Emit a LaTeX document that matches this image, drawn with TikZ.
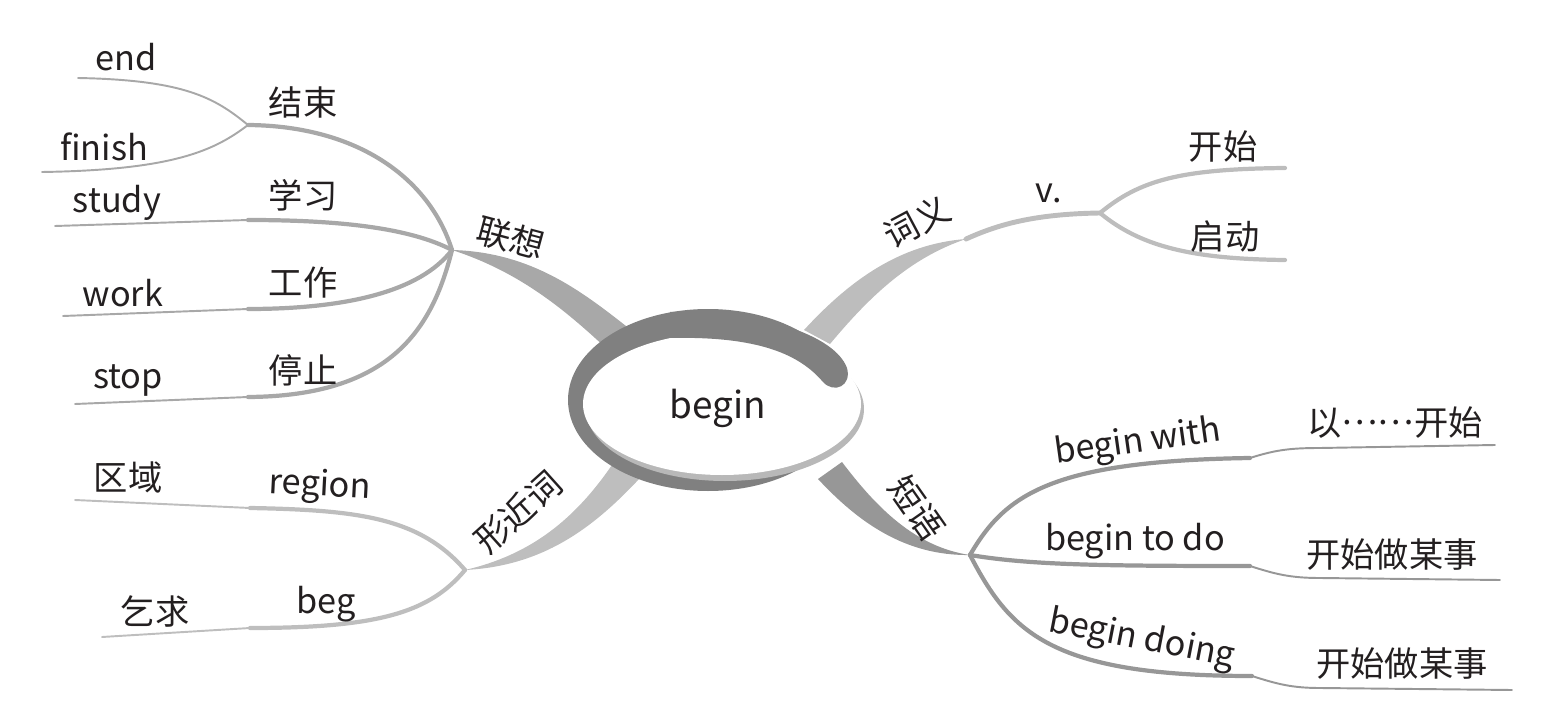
\documentclass[tikz,border=0pt]{standalone}
\usepackage{fontspec}
\setmainfont{Noto Sans CJK SC}
\definecolor{ringgray}{HTML}{808080}
\definecolor{rimgray}{HTML}{B8B8B8}
\definecolor{assocgray}{HTML}{A8A8A8}
\definecolor{meangray}{HTML}{BDBDBD}
\definecolor{phrasegray}{HTML}{979797}
\definecolor{formgray}{HTML}{BEBEBE}
\definecolor{inkblack}{HTML}{231F20}

\begin{document}
\begin{tikzpicture}[x=0.02cm, y=-0.02cm, line cap=round,
        word/.style={inner sep=0pt, text=inkblack, font=\fontsize{19.5}{22}\selectfont},
        twig/.style={line width=2.4pt},
        tail/.style={line width=1.1pt}]

    \useasboundingbox (0,0) rectangle (1562,726);

    % --- punkty węzłowe ---
    \coordinate (hubL) at (452,250);
    \coordinate (hubE) at (248,125);
    \coordinate (hubM) at (966,239);
    \coordinate (hubV) at (1100,213);
    \coordinate (hubP) at (970,555);
    \coordinate (hubF) at (465,570);

    % --- grube gałęzie ---
    \fill[assocgray] (hubL) .. controls (530,252) and (580,290) .. (626,326)
        -- (607,349) .. controls (565,310) and (520,272) .. (hubL) -- cycle;
    \fill[meangray] (hubM) .. controls (900,244) and (850,280) .. (804,330)
        -- (830,344) .. controls (870,296) and (910,258) .. (hubM) -- cycle;
    \fill[phrasegray] (hubP) .. controls (915,547) and (876,507) .. (842,462)
        -- (818,479) .. controls (858,522) and (905,556) .. (hubP) -- cycle;
    \fill[formgray] (hubF) .. controls (530,555) and (575,520) .. (614,462)
        -- (640,478) .. controls (595,526) and (545,566) .. (hubF) -- cycle;

    % --- węzeł centralny ---
    \fill[ringgray] (708,400) ellipse [x radius=140, y radius=91];
    \fill[rimgray] (725,409) ellipse [x radius=139, y radius=72];
    \fill[white] (722,404) ellipse [x radius=139, y radius=71];
    \fill[ringgray] (670,312) .. controls (760,310) and (835,335) .. (847,368)
        .. controls (852,386) and (834,394) .. (823,382)
        .. controls (800,355) and (760,336) .. (670,338) -- cycle;
    \node[word, font=\fontsize{21}{24}\selectfont] (root) at (718,408) {begin};

    % --- 联想 ---
    \coordinate (endA) at (78,78);
    \coordinate (endB) at (42,172);
    \coordinate (studyA) at (248,220);
    \coordinate (studyB) at (55,226);
    \coordinate (workA) at (248,309);
    \coordinate (workB) at (63,316);
    \coordinate (stopA) at (248,397);
    \coordinate (stopB) at (75,404);
    \draw[assocgray, twig] (hubL) .. controls (430,180) and (360,126) .. (hubE);
    \draw[assocgray, tail] (hubE) .. controls (215,98) and (185,80) .. (endA);
    \draw[assocgray, tail] (hubE) .. controls (215,150) and (175,170) .. (endB);
    \draw[assocgray, twig] (hubL) .. controls (410,228) and (340,220) .. (studyA);
    \draw[assocgray, tail] (studyA) -- (studyB);
    \draw[assocgray, twig] (hubL) .. controls (420,292) and (345,309) .. (workA);
    \draw[assocgray, tail] (workA) -- (workB);
    \draw[assocgray, twig] (hubL) .. controls (432,330) and (390,396) .. (stopA);
    \draw[assocgray, tail] (stopA) -- (stopB);

    \node[word, rotate=-15] (assoc) at (511,238) {联想};
    \node[word] (finishzh) at (303,102) {结束};
    \node[word] (end) at (126,57) {end};
    \node[word] (finish) at (104,147) {finish};
    \node[word] (studyzh) at (303,195) {学习};
    \node[word] (study) at (117,203) {study};
    \node[word] (workzh) at (303,283) {工作};
    \node[word] (work) at (123,293) {work};
    \node[word] (stopzh) at (303,370) {停止};
    \node[word] (stop) at (128,380) {stop};

    % --- 词义 ---
    \coordinate (startA) at (1285,168);
    \coordinate (startB) at (1285,260);
    \draw[meangray, line width=2.8pt] (hubM) .. controls (995,226) and (1030,214) .. (hubV);
    \draw[meangray, twig] (hubV) .. controls (1140,180) and (1180,169) .. (startA);
    \draw[meangray, twig] (hubV) .. controls (1140,246) and (1190,259) .. (startB);

    \node[word, rotate=28] (mean) at (917,222) {词义};
    \node[word] (verb) at (1049,193) {v.};
    \node[word] (kaishi) at (1223,147) {开始};
    \node[word] (qidong) at (1225,236) {启动};

    % --- 短语 ---
    \coordinate (withA) at (1250,458);
    \coordinate (withB) at (1495,445);
    \coordinate (todoA) at (1250,566);
    \coordinate (todoB) at (1500,580);
    \coordinate (doingA) at (1252,676);
    \coordinate (doingB) at (1512,690);
    \draw[phrasegray, twig] (hubP) .. controls (1005,495) and (1050,461) .. (withA);
    \draw[phrasegray, tail] (withA) .. controls (1275,450) and (1290,448) .. (1320,448) -- (withB);
    \draw[phrasegray, twig] (hubP) .. controls (1030,565) and (1100,566) .. (todoA);
    \draw[phrasegray, tail] (todoA) .. controls (1275,574) and (1290,578) .. (1320,578) -- (todoB);
    \draw[phrasegray, twig] (hubP) .. controls (1010,632) and (1050,676) .. (doingA);
    \draw[phrasegray, tail] (doingA) .. controls (1277,684) and (1292,688) .. (1320,688) -- (doingB);

    \node[word, rotate=-55] (phrase) at (917,508) {短语};
    \node[word, rotate=8] (with) at (1138,443) {begin with};
    \node[word] (withzh) at (1395,423) {以\raisebox{0.33em}{……}开始};
    \node[word] (todo) at (1135,541) {begin to do};
    \node[word] (todozh) at (1392,555) {开始做某事};
    \node[word, rotate=-11] (doing) at (1142,640) {begin doing};
    \node[word] (doingzh) at (1402,664) {开始做某事};

    % --- 形近词 ---
    \coordinate (regionA) at (250,508);
    \coordinate (regionB) at (75,500);
    \coordinate (begA) at (250,628);
    \coordinate (begB) at (102,637);
    \draw[formgray, twig] (hubF) .. controls (420,518) and (360,510) .. (regionA);
    \draw[formgray, tail] (regionA) -- (regionB);
    \draw[formgray, twig] (hubF) .. controls (430,612) and (380,628) .. (begA);
    \draw[formgray, tail] (begA) -- (begB);

    \node[word, rotate=42] (form) at (518,512) {形近词};
    \node[word, rotate=-3] (region) at (320,487) {region};
    \node[word] (regionzh) at (128,477) {区域};
    \node[word] (beg) at (326,604) {beg};
    \node[word] (begzh) at (155,611) {乞求};

\end{tikzpicture}
\end{document}
